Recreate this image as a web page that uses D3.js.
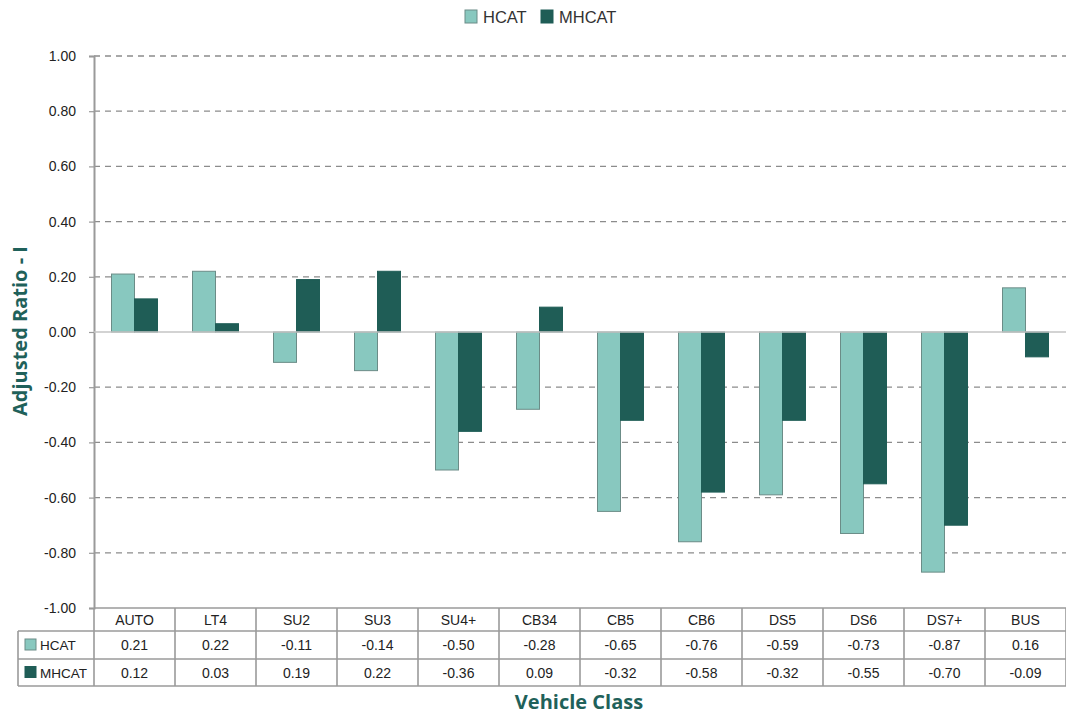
<!DOCTYPE html>
<html>
<head>
<meta charset="utf-8">
<script src="https://cdn.jsdelivr.net/npm/d3@7"></script>
<style>
  body { margin: 0; background: #fff; }
  svg { font-family: "Liberation Sans", Arial, sans-serif; }
</style>
</head>
<body>
<svg id="chart" width="1066" height="716"></svg>
<script>
var categories = ['AUTO', 'LT4', 'SU2', 'SU3', 'SU4+', 'CB34', 'CB5', 'CB6', 'DS5', 'DS6', 'DS7+', 'BUS'];
var hcat = [0.21, 0.22, -0.11, -0.14, -0.50, -0.28, -0.65, -0.76, -0.59, -0.73, -0.87, 0.16];
var mhcat = [0.12, 0.03, 0.19, 0.22, -0.36, 0.09, -0.32, -0.58, -0.32, -0.55, -0.70, -0.09];
var seriesNames = ['HCAT', 'MHCAT'];
var yTicks = [1.0, 0.8, 0.6, 0.4, 0.2, 0.0, -0.2, -0.4, -0.6, -0.8, -1.0];

var colors = { HCAT: '#88c8bf', MHCAT: '#1f5d56' };
var strokes = { HCAT: '#6b8c87', MHCAT: '#1f5d56' };
var titleColor = '#1f615a';
var lineGrey = '#9a9a9a';

// hyphen minus like the original
var fmt = d3.formatLocale({ decimal: '.', thousands: ',', grouping: [3], currency: ['', ''], minus: '-' }).format('.2f');

var svg = d3.select('#chart'),
	plotLeft = 94,
	plotRight = 1066,
	plotTop = 56,
	plotBottom = 608;

var xScale = d3.scaleBand()
	.domain(categories)
	.range([plotLeft, plotRight])
	.padding(0);

var barW = 23;
var xInner = d3.scaleBand()
	.domain(seriesNames)
	.range([(xScale.bandwidth() - 2 * barW) / 2, (xScale.bandwidth() + 2 * barW) / 2]);

var yScale = d3.scaleLinear()
	.domain([-1, 1])
	.range([plotBottom, plotTop]);

// grid lines
svg.append('g')
	.selectAll('line')
	.data(yTicks.filter(function(d) { return d !== 0 && d !== -1; }))
	.enter()
	.append('line')
	.attr('x1', plotLeft)
	.attr('x2', plotRight)
	.attr('y1', function(d) { return yScale(d); })
	.attr('y2', function(d) { return yScale(d); })
	.attr('stroke', '#8c8c8c')
	.attr('stroke-width', 1.3)
	.attr('stroke-dasharray', '6,5');

// y axis
var yAxis = d3.axisLeft(yScale)
	.tickValues(yTicks)
	.tickSize(5)
	.tickPadding(13)
	.tickFormat(fmt);

var yg = svg.append('g')
	.attr('transform', 'translate(' + plotLeft + ',0)')
	.call(yAxis);
yg.select('.domain').attr('stroke', lineGrey).attr('stroke-width', 2);
yg.selectAll('.tick line').attr('stroke', lineGrey).attr('stroke-width', 1.2);
yg.selectAll('.tick text')
	.attr('font-size', 14)
	.attr('fill', '#222')
	.style('font-family', '"Liberation Sans", Arial, sans-serif');

// bars
var rows = categories.map(function(c, i) {
	return { cat: c, values: [{ key: 'HCAT', v: hcat[i] }, { key: 'MHCAT', v: mhcat[i] }] };
});

var groups = svg.append('g')
	.selectAll('g')
	.data(rows)
	.enter()
	.append('g')
	.attr('transform', function(d) { return 'translate(' + xScale(d.cat) + ',0)'; });

groups.selectAll('rect')
	.data(function(d) { return d.values; })
	.enter()
	.append('rect')
	.attr('x', function(d) { return xInner(d.key); })
	.attr('y', function(d) { return yScale(Math.max(0, d.v)); })
	.attr('width', xInner.bandwidth())
	.attr('height', function(d) { return Math.abs(yScale(d.v) - yScale(0)); })
	.attr('fill', function(d) { return colors[d.key]; })
	.attr('stroke', function(d) { return strokes[d.key]; })
	.attr('stroke-width', 1);

// zero line
svg.append('line')
	.attr('x1', plotLeft)
	.attr('x2', plotRight)
	.attr('y1', yScale(0))
	.attr('y2', yScale(0))
	.attr('stroke', '#c4c4c4')
	.attr('stroke-width', 1.3);

// data table
var tableLeft = 18,
	rowTops = [plotBottom, 631, 659, 686];

var tbl = svg.append('g');

tbl.append('line').attr('x1', plotLeft).attr('x2', plotRight).attr('y1', rowTops[0]).attr('y2', rowTops[0]);
[rowTops[1], rowTops[2], rowTops[3]].forEach(function(y) {
	tbl.append('line').attr('x1', tableLeft).attr('x2', plotRight).attr('y1', y).attr('y2', y);
});
tbl.append('line').attr('x1', tableLeft).attr('x2', tableLeft).attr('y1', rowTops[1]).attr('y2', rowTops[3]);
tbl.append('line').attr('x1', plotLeft).attr('x2', plotLeft).attr('y1', rowTops[0]).attr('y2', rowTops[3]);
categories.forEach(function(c) {
	var xr = xScale(c) + xScale.bandwidth();
	tbl.append('line').attr('x1', xr).attr('x2', xr).attr('y1', rowTops[0]).attr('y2', rowTops[3]);
});
tbl.selectAll('line').attr('stroke', lineGrey).attr('stroke-width', 1.6);

// category labels
tbl.selectAll('.cat-label')
	.data(categories)
	.enter()
	.append('text')
	.attr('class', 'cat-label')
	.attr('x', function(d) { return xScale(d) + xScale.bandwidth() / 2; })
	.attr('y', (rowTops[0] + rowTops[1]) / 2 + 5)
	.attr('text-anchor', 'middle')
	.attr('font-size', 14)
	.attr('fill', '#222')
	.text(function(d) { return d; });

var tableSeries = [{ key: 'HCAT', vals: hcat }, { key: 'MHCAT', vals: mhcat }];
tableSeries.forEach(function(s, si) {
	var yMid = (rowTops[si + 1] + rowTops[si + 2]) / 2;
	tbl.append('rect')
		.attr('x', 25)
		.attr('y', yMid - 6)
		.attr('width', 11)
		.attr('height', 11)
		.attr('fill', colors[s.key])
		.attr('stroke', strokes[s.key]);
	tbl.append('text')
		.attr('x', 40)
		.attr('y', yMid + 5)
		.attr('font-size', 13.5)
		.attr('fill', '#222')
		.text(s.key);
	tbl.selectAll('.val-' + s.key)
		.data(s.vals)
		.enter()
		.append('text')
		.attr('x', function(d, i) { return xScale(categories[i]) + xScale.bandwidth() / 2; })
		.attr('y', yMid + 5)
		.attr('text-anchor', 'middle')
		.attr('font-size', 14)
		.attr('fill', '#222')
		.text(function(d) { return fmt(d); });
});

// legend
var legendItems = [{ key: 'HCAT', x: 465 }, { key: 'MHCAT', x: 541 }];
var lg = svg.append('g').selectAll('g')
	.data(legendItems)
	.enter()
	.append('g')
	.attr('transform', function(d) { return 'translate(' + d.x + ',10)'; });
lg.append('rect')
	.attr('width', 12)
	.attr('height', 13)
	.attr('fill', function(d) { return colors[d.key]; })
	.attr('stroke', function(d) { return strokes[d.key]; });
lg.append('text')
	.attr('x', 18)
	.attr('y', 12.5)
	.attr('font-size', 16.5)
	.attr('fill', '#333')
	.text(function(d) { return d.key; });

// axis titles
svg.append('text')
	.attr('transform', 'translate(27,' + 331 + ') rotate(-90)')
	.attr('text-anchor', 'middle')
	.attr('font-size', 20)
	.attr('font-weight', 'bold')
	.attr('fill', titleColor)
	.style('font-family', '"Open Sans", "DejaVu Sans", sans-serif')
	.text('Adjusted Ratio - I');

svg.append('text')
	.attr('x', 579)
	.attr('y', 709)
	.attr('text-anchor', 'middle')
	.attr('font-size', 20)
	.attr('font-weight', 'bold')
	.attr('fill', titleColor)
	.style('font-family', '"Open Sans", "DejaVu Sans", sans-serif')
	.text('Vehicle Class');
</script>
</body>
</html>
